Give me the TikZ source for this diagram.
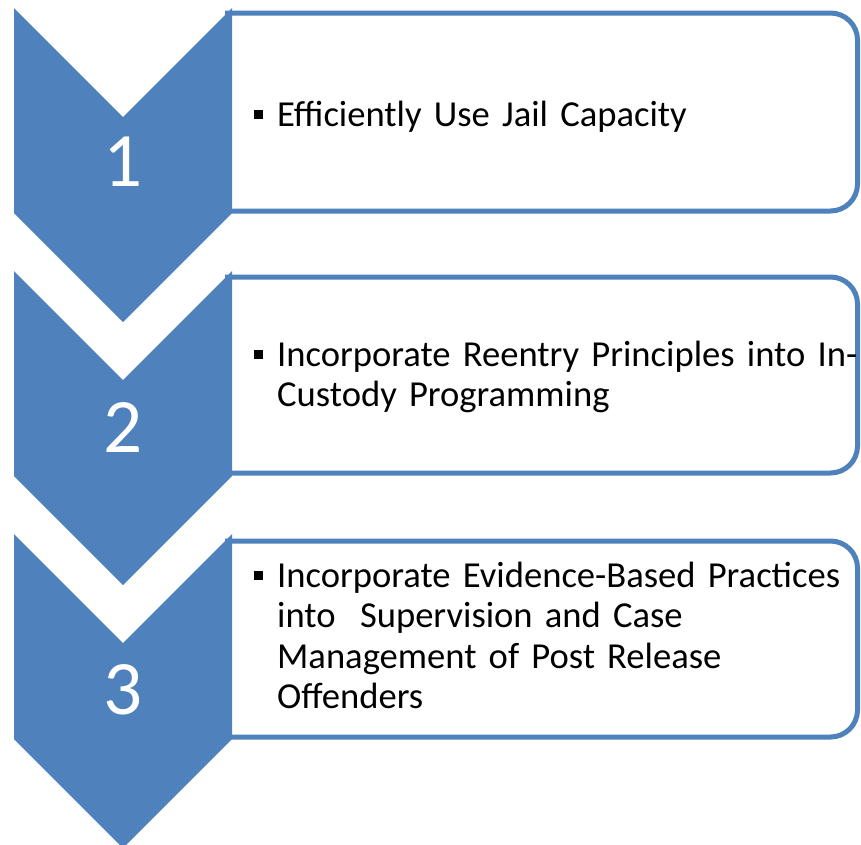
\documentclass[tikz,border=0pt]{standalone}
\usepackage{fontspec}
\setmainfont{Carlito}
\definecolor{accblue}{HTML}{4F81BD}
\pgfdeclareradialshading{bgrad}{\pgfpointorigin}{color(0bp)=(white); color(14.7bp)=(white); color(25bp)=(black!10); color(50bp)=(black!10)}
\newcommand{\sqbullet}{\llap{\rule[7pt]{9pt}{9pt}\hspace{14pt}}}
\begin{document}
\begin{tikzpicture}[x=1pt,y=-1pt,
  chev/.style={fill=accblue, draw=none},
  stepbox/.style={draw=accblue, line width=5pt, fill=white, rounded corners=27pt},
  numlabel/.style={text=white, font=\fontsize{77}{77}\selectfont, inner sep=0pt},
  itemtext/.style={font=\fontsize{36.6}{40.6}\selectfont, text width=700pt, align=left, anchor=base west, inner sep=0pt}]
\useasboundingbox (0,0) rectangle (861,844);
\begin{scope}
  \clip (0,0) rectangle (861,844);
  \shade[shading=bgrad] (300,300) circle (1700);
\end{scope}

% boxes
\draw[stepbox] (225,13) -- (857.5,13) -- (857.5,211) -- (225,211);
\draw[stepbox] (225,277) -- (857.5,277) -- (857.5,473) -- (225,473);
\draw[stepbox] (225,541) -- (857.5,541) -- (857.5,737) -- (225,737);

% chevrons
\fill[chev] (14,8) -- (123,117) -- (232,8) -- (232,213) -- (123,322) -- (14,213) -- cycle;
\fill[chev] (14,271) -- (123,380) -- (232,271) -- (232,476) -- (123,585) -- (14,476) -- cycle;
\fill[chev] (14,534) -- (123,643) -- (232,534) -- (232,739) -- (123,848) -- (14,739) -- cycle;

% numbers
\node[numlabel] (n1) at (123,162) {1};
\node[numlabel] (n2) at (123,428) {2};
\node[numlabel] (n3) at (123,690) {3};

% texts
\node[itemtext] (t1) at (277,126) {\sqbullet Efficiently Use Jail Capacity};
\node[itemtext] (t2) at (277,366) {\sqbullet Incorporate Reentry Principles into In-\\Custody Programming};
\node[itemtext] (t3) at (277,587) {\sqbullet Incorporate Evidence-Based Practices\\into~~Supervision and Case\\Management of Post Release\\Offenders};
\end{tikzpicture}
\end{document}
